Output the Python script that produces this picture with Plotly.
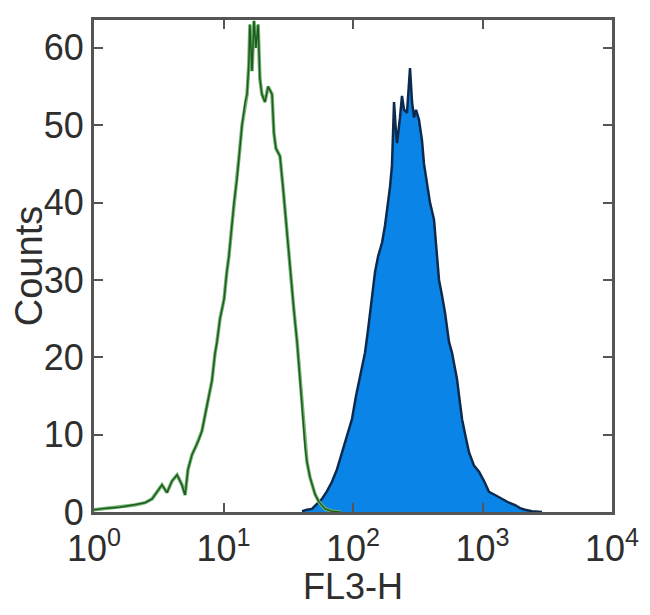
import plotly.graph_objects as go

# Isotype control histogram (green outline)
ctrl_fl3h = [1.0, 1.26, 1.59, 2.07, 2.48, 2.81, 3.35, 3.66, 4.0, 4.38, 4.78, 5.05, 5.32, 5.71,
             6.13, 6.47, 6.82, 7.2, 7.73, 8.15, 8.6, 8.91, 9.4, 10.1, 10.6, 11.0, 11.6, 12.05,
             12.7, 13.2, 13.9, 14.7, 15.2, 15.7, 16.0, 16.6, 17.2, 17.8, 18.5, 19.1, 19.8,
             20.9, 22.1, 23.7, 24.5, 25.4, 27.3, 28.8, 29.8, 32.0, 33.8, 35.0, 37.0, 38.3,
             39.7, 41.1, 42.6, 44.1, 46.5, 48.2, 50.9, 54.6, 60.8, 68.8, 80.0]
ctrl_counts = [0.3, 0.5, 0.6, 0.9, 1.2, 1.7, 3.5, 2.5, 4.0, 4.8, 3.5, 2.2, 5.5, 7.4,
               8.5, 9.4, 10.5, 12.5, 15, 17, 20.5, 22, 25, 27.5, 31, 33, 37, 40,
               43, 46, 50, 53, 54, 58, 63, 57, 63.5, 60, 63, 56, 54,
               53, 55, 54, 49, 47, 46, 42, 39, 33, 29, 26, 22, 19,
               15, 12, 8.5, 6.5, 4.5, 3.5, 2.3, 1.3, 0.4, 0.1, 0.0]

# Stained sample histogram (filled blue)
stain_fl3h = [40.4, 44.1, 48.2, 52.7, 57.6, 63.0, 68.8, 75.2, 82.2, 89.9, 98.2, 105.5, 111.2,
              117.3, 123.8, 130.6, 135.3, 142.7, 147.9, 156, 167.5, 176.6, 183.1, 193.1, 200,
              207.5, 214.9, 218.8, 230.7, 238.9, 247.7, 261.2, 275.6, 285.6, 295.9, 306.6,
              323.3, 341.1, 353.4, 372.7, 393.1, 422.1, 445.3, 461.4, 486.6, 513.2, 551, 581,
              635, 695, 746, 787, 860, 940, 1028, 1122, 1250, 1416, 1603, 1784, 1950, 2130,
              2410, 2880]
stain_counts = [0.1, 0.3, 0.4, 1.0, 1.7, 2.7, 3.9, 5.5, 7.7, 10, 12, 15, 16.8,
                18.5, 20.6, 23.5, 25.8, 29, 31, 33, 34.8, 37, 39, 42, 44.8,
                53, 49, 47.7, 51, 53.8, 52, 51.6, 57.4, 53, 51, 52,
                50.7, 48, 45, 42.6, 40, 37.8, 33, 30, 28, 25.8, 22, 20.6,
                17.2, 12, 9.5, 7.7, 6, 5.2, 4, 2.6, 2.2, 1.7, 1.2, 0.9, 0.5, 0.3,
                0.1, 0.0]

x_tickvals = [1, 10, 100, 1000, 10000]
x_ticktext = ["10<sup>0</sup>", "10<sup>1</sup>", "10<sup>2</sup>", "10<sup>3</sup>", "10<sup>4</sup>"]
y_tickvals = [0, 10, 20, 30, 40, 50, 60]

fig = go.Figure()
fig.add_trace(go.Scatter(
    x=stain_fl3h, y=stain_counts, mode="lines", fill="tozeroy",
    fillcolor="#0a84e6", line=dict(color="#0c2a4e", width=2.5),
    showlegend=False))
fig.add_trace(go.Scatter(
    x=ctrl_fl3h, y=ctrl_counts, mode="lines",
    line=dict(color="#6fb36f", width=3.5), showlegend=False))
fig.add_trace(go.Scatter(
    x=ctrl_fl3h, y=ctrl_counts, mode="lines",
    line=dict(color="#1f5a1f", width=1.5), showlegend=False))

font_family = "Liberation Sans, Arial, sans-serif"
axis_color = "#555555"
# page body has a default margin; figure sized to avoid scrollbars
fig.update_layout(
    width=634, height=599,
    margin=dict(l=86, r=30, t=12, b=95),
    paper_bgcolor="white", plot_bgcolor="white",
    font=dict(family=font_family, color="#2e2e2e", size=36),
    xaxis=dict(
        type="log", range=[0, 4], tickvals=x_tickvals, ticktext=x_ticktext,
        ticks="inside", ticklen=9, tickcolor=axis_color, tickwidth=2,
        showline=True, linecolor=axis_color, linewidth=3, mirror="ticks",
        showgrid=False, zeroline=False, automargin=False,
        tickfont=dict(size=36), ticklabelstandoff=3,
        title=dict(text="FL3-H", font=dict(size=36), standoff=10),
    ),
    yaxis=dict(
        range=[0, 63.6], tickvals=y_tickvals,
        ticks="inside", ticklen=9, tickcolor=axis_color, tickwidth=2,
        showline=True, linecolor=axis_color, linewidth=3, mirror="ticks",
        showgrid=False, zeroline=False, automargin=False,
        tickfont=dict(size=36),
        title=dict(text="Counts", font=dict(size=38), standoff=0),
    ),
)

fig.write_html("out.html")
